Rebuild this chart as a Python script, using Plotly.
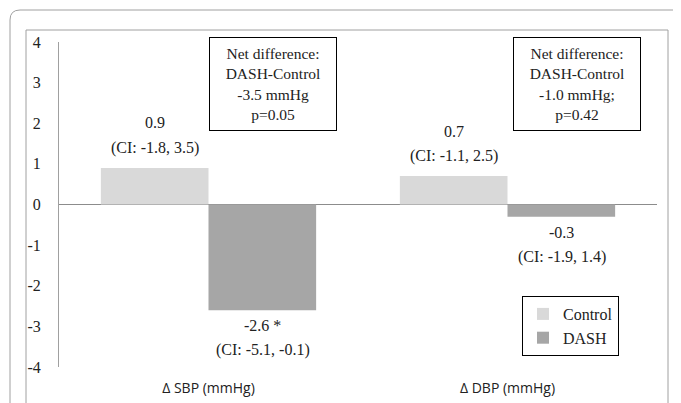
import plotly.graph_objects as go

categories = ["Δ SBP (mmHg)", "Δ DBP (mmHg)"]
series_names = ["Control", "DASH"]
control_values = [0.9, 0.7]
dash_values = [-2.6, -0.3]
control_value_text = ["0.9", "0.7"]
control_ci_text = ["(CI: -1.8, 3.5)", "(CI: -1.1, 2.5)"]
dash_value_text = ["-2.6 *", "-0.3"]
dash_ci_text = ["(CI: -5.1, -0.1)", "(CI: -1.9, 1.4)"]
net_boxes = [
    "Net difference:<br>DASH-Control<br>-3.5 mmHg<br>p=0.05",
    "Net difference:<br>DASH-Control<br>-1.0 mmHg;<br>p=0.42",
]
y_ticks = [4, 3, 2, 1, 0, -1, -2, -3, -4]
y_tick_text = ["4", "3", "2", "1", "0", "-1", "-2", "-3", "-4"]

OFF = 8  # page body margin
W, H = 681, 403
# plot area in window pixels: x 59..657, y 42..367
L = 59 - OFF
T = 42 - OFF
R = W - (657 - OFF)
B = H - (367 - OFF)
PW, PH = W - L - R, H - T - B

def px(x):
    return (x - OFF - L) / PW

def py(y):
    return (H - B - (y - OFF)) / PH

SERIF = "Liberation Serif"
SANS = "Open Sans"
TXT = "#222222"

fig = go.Figure()
fig.add_trace(go.Bar(x=categories, y=control_values, name=series_names[0],
                     marker=dict(color="#d9d9d9", line=dict(width=0))))
fig.add_trace(go.Bar(x=categories, y=dash_values, name=series_names[1],
                     marker=dict(color="#a6a6a6", line=dict(width=0))))

annotations = []
font = dict(family=SERIF, size=16, color=TXT)
for i, cat in enumerate(categories):
    annotations.append(dict(x=cat, y=control_values[i], xref="x", yref="y",
                            text=control_value_text[i], showarrow=False, xshift=-54,
                            yanchor="middle", yshift=45, font=font))
    annotations.append(dict(x=cat, y=control_values[i], xref="x", yref="y",
                            text=control_ci_text[i], showarrow=False, xshift=-54,
                            yanchor="middle", yshift=20, font=font))
    annotations.append(dict(x=cat, y=dash_values[i], xref="x", yref="y",
                            text=dash_value_text[i], showarrow=False, xshift=54,
                            yanchor="middle", yshift=-15.5, font=font))
    annotations.append(dict(x=cat, y=dash_values[i], xref="x", yref="y",
                            text=dash_ci_text[i], showarrow=False, xshift=54,
                            yanchor="middle", yshift=-40, font=font))

box_centers = [(273, 83.5), (577, 84)]
for (cx, cy), txt in zip(box_centers, net_boxes):
    annotations.append(dict(x=px(cx), y=py(cy), xref="paper", yref="paper",
                            text=txt, showarrow=False, xanchor="center", yanchor="middle",
                            width=118, height=84, align="center", valign="middle",
                            bordercolor="#000", borderwidth=1, borderpad=4, bgcolor="white",
                            font=dict(family=SERIF, size=15.5, color=TXT)))

gray = "#a0a0a0"
shapes = [
    dict(type="path", xref="paper", yref="paper",
         path=f"M {px(10)},{py(420)} L {px(10)},{py(20)} Q {px(10)},{py(10)} {px(20)},{py(10)} L {px(700)},{py(10)}",
         line=dict(color=gray, width=1)),
    dict(type="path", xref="paper", yref="paper",
         path=f"M {px(26)},{py(420)} L {px(26)},{py(30)} L {px(668)},{py(30)} L {px(668)},{py(420)}",
         line=dict(color=gray, width=1)),
]

fig.update_layout(
    width=W, height=H,
    margin=dict(l=L, r=R, t=T, b=B),
    paper_bgcolor="white", plot_bgcolor="white",
    barmode="group", bargap=0.28, bargroupgap=0,
    showlegend=True,
    legend=dict(x=px(522), y=py(296), xanchor="left", yanchor="top",
                bordercolor="#000", borderwidth=1, bgcolor="white",
                font=dict(family=SERIF, size=16, color=TXT),
                itemwidth=30, entrywidth=80, tracegroupgap=4),
    xaxis=dict(showgrid=False, showline=False, ticks="", zeroline=False,
               tickfont=dict(family=SANS, size=14, color=TXT),
               ticklabelstandoff=11),
    yaxis=dict(range=[-4, 4], tickvals=y_ticks, ticktext=y_tick_text, showgrid=False,
               showline=True, linecolor="#a0a0a0", linewidth=1,
               zeroline=True, zerolinecolor="#8c8c8c", zerolinewidth=1,
               ticks="", tickfont=dict(family=SERIF, size=16, color=TXT),
               ticklabelstandoff=14),
    annotations=annotations,
    shapes=shapes,
)

fig.write_html("out.html")
